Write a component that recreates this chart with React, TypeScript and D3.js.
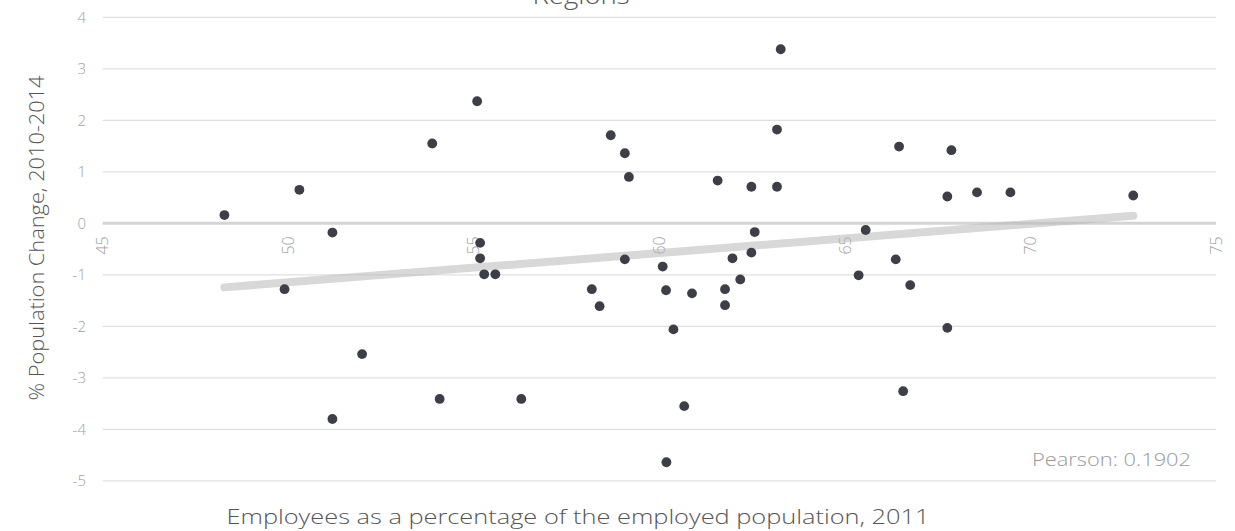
import React from "react";
import * as d3 from "d3";

const employeesPct: number[] = [
  48.28, 49.9, 50.3, 51.19, 51.19, 51.99, 53.88, 54.08, 55.09, 55.17,
  55.17, 55.28, 55.58, 56.28, 58.18, 58.39, 58.69, 59.07, 59.07, 59.18,
  60.09, 60.18, 60.19, 60.38, 60.67, 60.88, 61.57, 61.77, 61.77, 61.97,
  62.18, 62.48, 62.48, 62.57, 63.17, 63.17, 63.27, 65.37, 65.56, 66.37,
  66.46, 66.57, 66.76, 67.76, 67.76, 67.87, 68.56, 69.46, 72.77,
];
const popChange: number[] = [
  0.16, -1.28, 0.65, -0.18, -3.8, -2.54, 1.55, -3.41, 2.37, -0.38,
  -0.68, -0.99, -0.99, -3.41, -1.28, -1.61, 1.71, 1.36, -0.7, 0.9,
  -0.84, -1.3, -4.64, -2.06, -3.55, -1.36, 0.83, -1.28, -1.59, -0.68,
  -1.09, 0.71, -0.57, -0.17, 1.82, 0.71, 3.38, -1.01, -0.13, -0.7,
  1.49, -3.26, -1.2, 0.52, -2.03, 1.42, 0.6, 0.6, 0.54,
];
const xTicks: number[] = [45, 50, 55, 60, 65, 70, 75];
const yTicks: number[] = [4, 3, 2, 1, 0, -1, -2, -3, -4, -5];

const title = "Regions";
const xTitle = "Employees as a percentage of the employed population, 2011";
const yTitle = "% Population Change, 2010-2014";
const pearsonLabel = "Pearson: 0.1902";

const W = 1235;
const H = 531;
const FONT = "'Open Sans', Lato, sans-serif";

export default function App() {
  const x = d3.scaleLinear().domain([45, 75]).range([102.7, 1216]);
  const y = d3.scaleLinear().domain([4, -5]).range([17.3, 480.8]);

  const pts = employeesPct.map((v, i) => ({ x: v, y: popChange[i] }));
  const mx = d3.mean(pts, (d) => d.x) as number;
  const my = d3.mean(pts, (d) => d.y) as number;
  const sxy = d3.sum(pts, (d) => (d.x - mx) * (d.y - my));
  const sxx = d3.sum(pts, (d) => (d.x - mx) * (d.x - mx));
  const slope = sxy / sxx;
  const icpt = my - slope * mx;
  const [xmin, xmax] = d3.extent(employeesPct) as [number, number];
  const trend = d3.line<number>()
    .x((v) => x(v))
    .y((v) => y(icpt + slope * v))([xmin, xmax]) as string;

  return (
    <svg
      width={W}
      height={H}
      style={{ position: "absolute", left: 0, top: 0, display: "block", background: "#fff" }}
      fontFamily={FONT}
    >
      <text
        x={581}
        y={4}
        textAnchor="middle"
        fontSize={24}
        fontWeight={300}
        fill="#555"
        textLength={97}
        lengthAdjust="spacingAndGlyphs"
      >
        {title}
      </text>
      {yTicks.map((t) => (
        <g key={"y" + t}>
          <line
            x1={x(45)}
            x2={x(75)}
            y1={y(t)}
            y2={y(t)}
            stroke={t === 0 ? "#d4d4d4" : "#e0e0e0"}
            strokeWidth={t === 0 ? 3 : 1.3}
          />
          <text
            x={86}
            y={y(t)}
            dy="0.35em"
            textAnchor="end"
            fontSize={15}
            fontWeight={300}
            fill="#a0a0a0"
          >
            {t}
          </text>
        </g>
      ))}
      {xTicks.map((t) => (
        <text
          key={"x" + t}
          transform={`translate(${x(t)},${y(0) + 13}) rotate(-90)`}
          dy="0.35em"
          textAnchor="end"
          fontSize={16}
          fontWeight={300}
          fill="#a0a0a0"
        >
          {t}
        </text>
      ))}
      <path
        d={trend}
        stroke="#b8b8b8"
        strokeOpacity={0.55}
        strokeWidth={8}
        strokeLinecap="round"
        fill="none"
      />
      {pts.map((d, i) => (
        <circle key={i} cx={x(d.x)} cy={y(d.y)} r={4.9} fill="#3d3f48" />
      ))}
      <text
        x={1191}
        y={466}
        textAnchor="end"
        fontSize={18}
        fontWeight={300}
        fill="#9a9a9a"
        textLength={159}
        lengthAdjust="spacingAndGlyphs"
      >
        {pearsonLabel}
      </text>
      <text
        x={578}
        y={524}
        textAnchor="middle"
        fontSize={21}
        fontWeight={300}
        fill="#555"
        textLength={703}
        lengthAdjust="spacingAndGlyphs"
      >
        {xTitle}
      </text>
      <text
        transform={`translate(44,${238}) rotate(-90)`}
        textAnchor="middle"
        fontSize={21}
        fontWeight={300}
        fill="#555"
        textLength={325}
        lengthAdjust="spacingAndGlyphs"
      >
        {yTitle}
      </text>
    </svg>
  );
}
